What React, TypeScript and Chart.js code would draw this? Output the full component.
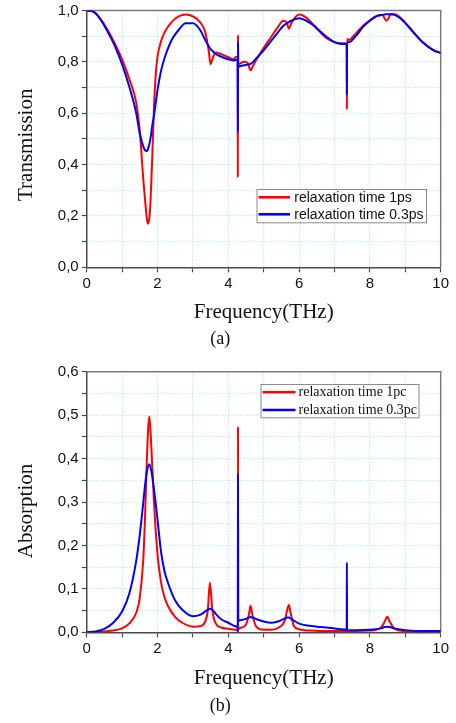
import React, { useEffect, useRef } from "react";
import { Chart, registerables } from "chart.js";

Chart.register(...registerables);

// ---------- data (a) transmission ----------
const freqT = [0, 0.2, 0.4, 0.6, 0.8, 1.0, 1.2, 1.4, 1.5, 1.6, 1.65, 1.7, 1.73, 1.77, 1.8, 1.85, 1.9, 1.95, 2.0, 2.1, 2.2, 2.4, 2.6, 2.8, 3.0, 3.2, 3.35, 3.45, 3.5, 3.55, 3.65, 3.8, 4.0, 4.15, 4.22, 4.265, 4.27, 4.275, 4.28, 4.35, 4.45, 4.55, 4.63, 4.7, 4.8, 5.0, 5.2, 5.4, 5.55, 5.65, 5.71, 5.78, 5.9, 6.0, 6.2, 6.4, 6.6, 6.8, 7.0, 7.2, 7.345, 7.35, 7.355, 7.4, 7.6, 7.8, 8.0, 8.2, 8.35, 8.47, 8.6, 8.7, 8.9, 9.2, 9.5, 9.8, 10];
const trans1ps = [1.0, 0.995, 0.966, 0.922, 0.87, 0.81, 0.735, 0.64, 0.53, 0.34, 0.26, 0.19, 0.17, 0.19, 0.25, 0.42, 0.62, 0.75, 0.82, 0.88, 0.915, 0.955, 0.977, 0.984, 0.977, 0.955, 0.915, 0.84, 0.79, 0.81, 0.836, 0.83, 0.818, 0.81, 0.82, 0.82, 0.35, 0.905, 0.79, 0.795, 0.8, 0.795, 0.767, 0.785, 0.81, 0.855, 0.895, 0.935, 0.96, 0.955, 0.929, 0.95, 0.975, 0.984, 0.972, 0.945, 0.915, 0.89, 0.877, 0.872, 0.872, 0.614, 0.889, 0.885, 0.91, 0.94, 0.962, 0.98, 0.982, 0.96, 0.985, 0.985, 0.967, 0.92, 0.875, 0.845, 0.835];
const trans03ps = [1.0, 0.995, 0.963, 0.915, 0.86, 0.79, 0.705, 0.6, 0.52, 0.47, 0.455, 0.452, 0.46, 0.48, 0.5, 0.55, 0.59, 0.64, 0.69, 0.765, 0.815, 0.885, 0.925, 0.95, 0.95, 0.925, 0.885, 0.86, 0.85, 0.843, 0.83, 0.82, 0.81, 0.805, 0.808, 0.81, 0.527, 0.879, 0.78, 0.784, 0.787, 0.79, 0.792, 0.8, 0.815, 0.845, 0.88, 0.915, 0.94, 0.95, 0.955, 0.96, 0.967, 0.97, 0.96, 0.943, 0.918, 0.895, 0.877, 0.87, 0.87, 0.67, 0.876, 0.876, 0.9, 0.935, 0.96, 0.978, 0.983, 0.985, 0.985, 0.983, 0.965, 0.92, 0.875, 0.845, 0.835];

// ---------- data (b) absorption ----------
const freqA = [0, 0.25, 0.5, 0.75, 1.0, 1.2, 1.4, 1.5, 1.6, 1.65, 1.7, 1.77, 1.83, 1.9, 2.0, 2.1, 2.2, 2.3, 2.5, 2.7, 3.0, 3.2, 3.35, 3.42, 3.48, 3.55, 3.65, 3.8, 4.0, 4.2, 4.265, 4.27, 4.275, 4.28, 4.35, 4.5, 4.58, 4.63, 4.68, 4.8, 5.0, 5.2, 5.4, 5.6, 5.66, 5.71, 5.76, 5.85, 6.0, 6.3, 6.6, 7.0, 7.345, 7.35, 7.355, 7.6, 8.0, 8.3, 8.42, 8.49, 8.56, 8.7, 9.0, 9.5, 9.9, 10];
const abs1pc = [0, 0.0005, 0.002, 0.004, 0.009, 0.02, 0.045, 0.08, 0.17, 0.27, 0.4, 0.497, 0.42, 0.3, 0.18, 0.115, 0.08, 0.06, 0.035, 0.022, 0.013, 0.014, 0.025, 0.05, 0.114, 0.05, 0.02, 0.011, 0.008, 0.006, 0.005, 0.001, 0.474, 0.009, 0.01, 0.018, 0.04, 0.061, 0.04, 0.012, 0.006, 0.006, 0.01, 0.028, 0.05, 0.063, 0.045, 0.015, 0.007, 0.004, 0.003, 0.003, 0.003, 0.004, 0.003, 0.003, 0.004, 0.01, 0.025, 0.036, 0.025, 0.008, 0.003, 0.002, 0.002, 0.002];
const abs03pc = [0, 0.002, 0.008, 0.022, 0.048, 0.088, 0.165, 0.225, 0.3, 0.34, 0.37, 0.387, 0.37, 0.33, 0.26, 0.185, 0.14, 0.113, 0.073, 0.052, 0.037, 0.04, 0.048, 0.052, 0.054, 0.052, 0.042, 0.03, 0.022, 0.014, 0.01, 0.0, 0.366, 0.027, 0.028, 0.031, 0.034, 0.035, 0.034, 0.03, 0.025, 0.022, 0.025, 0.032, 0.034, 0.034, 0.032, 0.027, 0.02, 0.015, 0.012, 0.009, 0.006, 0.161, 0.005, 0.005, 0.006, 0.009, 0.012, 0.013, 0.012, 0.009, 0.005, 0.003, 0.003, 0.003];

const labelsT = ["relaxation time 1ps", "relaxation time 0.3ps"];
const labelsA = ["relaxation time 1pc", "relaxation time 0.3pc"];
const xLabelEvery = 2; // THz between labelled ticks

const RED = "#ff0000";
const BLUE = "#0000ff";
const GRID = "rgba(120,228,232,0.85)";
const AXIS = "#4a4a4a";
const FRAME = "#7a7a7a";

const boxLegend = {
  id: "boxLegend",
  afterDraw(chart: any, _a: any, o: any) {
    const { ctx } = chart;
    ctx.save();
    ctx.fillStyle = "#fff";
    ctx.fillRect(o.x, o.y, o.w, o.h);
    ctx.strokeStyle = "#8a8a8a";
    ctx.lineWidth = 1;
    ctx.strokeRect(o.x + 0.5, o.y + 0.5, o.w, o.h);
    chart.data.datasets.forEach((ds: any, i: number) => {
      const y = o.y + o.row0 + i * o.gap;
      ctx.strokeStyle = ds.borderColor;
      ctx.lineWidth = 2.6;
      ctx.beginPath();
      ctx.moveTo(o.x + o.l0, y);
      ctx.lineTo(o.x + o.l1, y);
      ctx.stroke();
      ctx.fillStyle = "#111";
      ctx.font = o.font;
      ctx.textAlign = "left";
      ctx.textBaseline = "middle";
      ctx.fillText(ds.label, o.x + o.tx, y + 0.5);
    });
    ctx.restore();
  },
};

const frame = {
  id: "frame",
  beforeDatasetsDraw(chart: any) {
    const { ctx, chartArea: a } = chart;
    ctx.save();
    ctx.strokeStyle = FRAME;
    ctx.lineWidth = 1.5;
    ctx.beginPath();
    ctx.moveTo(a.left, a.top);
    ctx.lineTo(a.right, a.top);
    ctx.lineTo(a.right, a.bottom);
    ctx.stroke();
    ctx.restore();
  },
};

const sideTitle = {
  id: "sideTitle",
  afterDraw(chart: any, _a: any, o: any) {
    const { ctx } = chart;
    ctx.save();
    ctx.translate(o.x, o.y);
    ctx.rotate(-Math.PI / 2);
    ctx.font = o.font;
    ctx.fillStyle = "#111";
    ctx.textAlign = "center";
    ctx.textBaseline = "middle";
    ctx.fillText(o.text, 0, 0);
    ctx.restore();
  },
};

function makeConfig(p: {
  freq: number[];
  s1: number[];
  s2: number[];
  labels: string[];
  yMax: number;
  yStep: number;
  yLabelEvery: number;
  yTitle: string;
  yTitlePos: number;
  caption: string;
  captionPad: number;
  xHeight: number;
  xTitlePad: number;
  top: number;
  legend: any;
}) {
  const fmt = (v: number) => v.toFixed(1).replace(".", ",");
  return {
    type: "line",
    data: {
      datasets: [
        {
          label: p.labels[0],
          data: p.freq.map((f, i) => ({ x: f, y: p.s1[i] })),
          borderColor: RED,
          borderWidth: 2,
          pointRadius: 0,
          cubicInterpolationMode: "monotone",
          order: 1,
        },
        {
          label: p.labels[1],
          data: p.freq.map((f, i) => ({ x: f, y: p.s2[i] })),
          borderColor: BLUE,
          borderWidth: 2,
          pointRadius: 0,
          cubicInterpolationMode: "monotone",
          order: 0,
        },
      ],
    },
    options: {
      animation: false,
      responsive: false,
      devicePixelRatio: 1,
      layout: { padding: { left: 0, right: 15.3, top: p.top, bottom: 0 } },
      scales: {
        x: {
          type: "linear",
          min: 0,
          max: 10,
          afterFit: (s: any) => {
            s.height = p.xHeight;
          },
          ticks: {
            stepSize: 1,
            padding: 4,
            color: "#111",
            font: { family: "Liberation Sans", size: 15, lineHeight: 1 },
            callback: (v: number) => (Math.round(v) % xLabelEvery === 0 ? String(v) : ""),
            maxRotation: 0,
            autoSkip: false,
          },
          grid: { color: GRID, tickLength: 5, tickColor: AXIS, tickWidth: 1.2 },
          border: { color: AXIS, width: 1.5, dash: [1, 2] },
          title: {
            display: true,
            text: "Frequency(THz)",
            color: "#111",
            font: { family: "Liberation Serif", size: 21, lineHeight: 1.2 },
            padding: { top: 0, bottom: p.xTitlePad },
          },
        },
        y: {
          type: "linear",
          min: 0,
          max: p.yMax,
          afterFit: (s: any) => {
            s.width = 86.7;
          },
          ticks: {
            stepSize: p.yStep,
            padding: 3,
            color: "#111",
            font: { family: "Liberation Sans", size: 15, lineHeight: 1 },
            callback: (v: number) =>
              Math.round(v / p.yStep) % p.yLabelEvery === 0 ? fmt(v) : "",
            autoSkip: false,
          },
          grid: { color: GRID, tickLength: 5, tickColor: AXIS, tickWidth: 1.2 },
          border: { color: AXIS, width: 1.5, dash: [1, 2] },
        },
      },
      plugins: {
        legend: { display: false },
        tooltip: { enabled: false },
        title: {
          display: true,
          position: "bottom",
          text: p.caption,
          color: "#111",
          font: { family: "Liberation Serif", size: 18, weight: "normal", lineHeight: 1.2 },
          padding: { top: 0, bottom: p.captionPad },
        },
        boxLegend: p.legend,
        sideTitle: { text: p.yTitle, x: 26, y: p.yTitlePos, font: "21px 'Liberation Serif'" },
      },
    },
    plugins: [frame, boxLegend, sideTitle],
  };
}

export default function App() {
  const topRef = useRef<HTMLCanvasElement>(null);
  const botRef = useRef<HTMLCanvasElement>(null);

  useEffect(() => {
    const c1 = new Chart(
      topRef.current as HTMLCanvasElement,
      makeConfig({
        freq: freqT,
        s1: trans1ps,
        s2: trans03ps,
        labels: labelsT,
        yMax: 1,
        yStep: 0.1,
        yLabelEvery: 2,
        yTitle: "Transmission",
        yTitlePos: 144.8,
        caption: "(a)",
        captionPad: 10.2,
        xHeight: 60.9,
        xTitlePad: 3.1,
        top: 6.7,
        legend: {
          x: 256.5, y: 189, w: 169.5, h: 33.3, row0: 8.3, gap: 17,
          l0: 2, l1: 33.5, tx: 37.8, font: "14px 'Liberation Sans'",
        },
      }) as any
    );
    const c2 = new Chart(
      botRef.current as HTMLCanvasElement,
      makeConfig({
        freq: freqA,
        s1: abs1pc,
        s2: abs03pc,
        labels: labelsA,
        yMax: 0.6,
        yStep: 0.05,
        yLabelEvery: 2,
        yTitle: "Absorption",
        yTitlePos: 151,
        caption: "(b)",
        captionPad: 5.5,
        xHeight: 63.6,
        xTitlePad: 5.3,
        top: 11.7,
        legend: {
          x: 260.5, y: 24, w: 158, h: 33.3, row0: 8.3, gap: 17.7,
          l0: 2, l1: 35, tx: 38, font: "14px 'Liberation Serif'",
        },
      }) as any
    );
    return () => {
      c1.destroy();
      c2.destroy();
    };
  }, []);

  return (
    <div style={{ position: "absolute", left: 0, top: 0, width: 456, height: 723, background: "#fff" }}>
      <canvas ref={topRef} width={456} height={360} style={{ position: "absolute", left: 0, top: 0, display: "block" }} />
      <canvas ref={botRef} width={456} height={363} style={{ position: "absolute", left: 0, top: 360, display: "block" }} />
    </div>
  );
}
